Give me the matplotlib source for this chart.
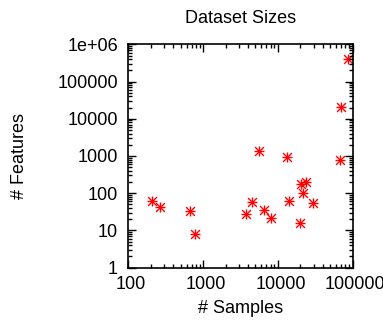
import matplotlib
matplotlib.use("Agg")
import matplotlib.pyplot as plt
import matplotlib.transforms as mtransforms
from matplotlib.ticker import FixedLocator, FuncFormatter, LogLocator, NullFormatter

plt.rcParams['font.family'] = ['Liberation Sans', 'DejaVu Sans']

samples = [205, 268, 675, 773, 3750, 4550, 5530, 6520, 8090, 13370,
           14070, 19700, 20500, 21700, 23500, 29700, 68200, 70500, 86500]
features = [62, 44, 34, 8, 27, 57, 1345, 36, 22, 946,
            62, 16, 178, 100, 197, 55, 800, 21300, 415000]

x_ticks = [100, 1000, 10000, 100000]
y_ticks = [1, 10, 100, 1000, 10000, 100000, 1000000]
y_labels = ['1', '10', '100', '1000', '10000', '100000', '1e+06']

W, H = 383, 323
fs = 13

fig = plt.figure(figsize=(W / 100, H / 100), dpi=100)
ax = fig.add_axes([128.3 / W, 1 - 267.7 / H, 224.4 / W, 223.4 / H])

ax.scatter(samples, features, marker='+', s=60, color='red', linewidths=1, clip_on=False)
ax.scatter(samples, features, marker='x', s=40, color='red', linewidths=1, clip_on=False)

ax.set_xscale('log')
ax.set_yscale('log')
ax.set_xlim(100, 100000)
ax.set_ylim(1, 1000000)

ax.xaxis.set_major_locator(FixedLocator(x_ticks))
ax.xaxis.set_major_formatter(FuncFormatter(lambda v, p: '%d' % round(v)))
ax.yaxis.set_major_locator(FixedLocator(y_ticks))
ax.yaxis.set_major_formatter(FuncFormatter(lambda v, p: y_labels[y_ticks.index(round(v))] if round(v) in y_ticks else ''))
ax.xaxis.set_minor_locator(LogLocator(base=10, subs=range(2, 10)))
ax.yaxis.set_minor_locator(LogLocator(base=10, subs=range(2, 10)))
ax.xaxis.set_minor_formatter(NullFormatter())
ax.yaxis.set_minor_formatter(NullFormatter())

ax.tick_params(which='both', direction='in', top=True, right=True, labelsize=fs, colors='black')
ax.tick_params(which='major', length=5.5, width=1)
ax.tick_params(which='minor', length=3, width=1)
ax.tick_params(axis='x', pad=6)
ax.tick_params(axis='y', pad=7.5)
for s in ax.spines.values():
    s.set_linewidth(1.2)

# gnuplot puts the x labels a couple of pixels right of the ticks
shift = mtransforms.ScaledTranslation(2.5 / 100, 0, fig.dpi_scale_trans)
for lbl in ax.get_xticklabels():
    lbl.set_transform(lbl.get_transform() + shift)

fig.text(240.5 / W, 1 - 23 / H, 'Dataset Sizes', fontsize=fs, ha='center', va='baseline')
fig.text(240.5 / W, 1 - 313 / H, '# Samples', fontsize=fs, ha='center', va='baseline')
fig.text(19 / W, 1 - 156 / H, '# Features', fontsize=fs, ha='center', va='center', rotation=90)

fig.savefig('out.png', dpi=100)
